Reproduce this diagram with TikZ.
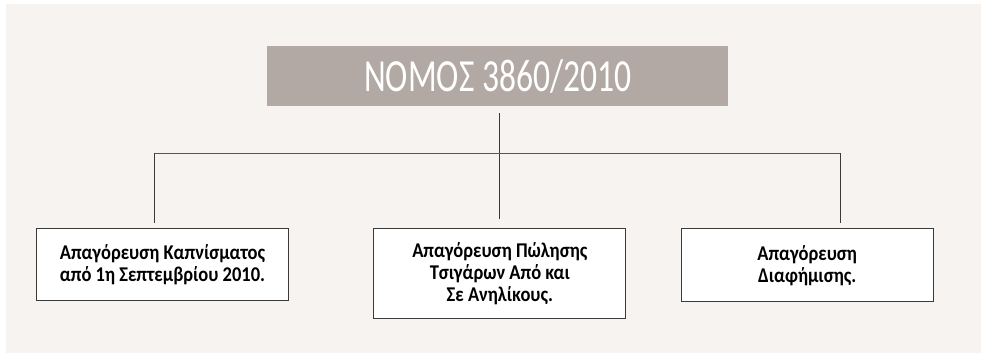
\documentclass[tikz,border=0pt]{standalone}
\usepackage{fontspec}
\setmainfont{Carlito}
\usetikzlibrary{positioning}

\definecolor{panelbg}{HTML}{F7F3F0}
\definecolor{lawgray}{HTML}{B3A9A4}
\definecolor{edgegray}{HTML}{3A3A3A}
\definecolor{railgray}{HTML}{5A5656}

\tikzset{
  lawbox/.style={fill=lawgray, anchor=north west, inner sep=0pt,
    minimum width=461pt, minimum height=60pt, text=white,
    font=\fontsize{46}{46}\selectfont},
  banbox/.style={draw=edgegray, line width=1.1pt, fill=white, anchor=north west,
    inner sep=0pt, minimum width=252pt, align=center,
    font=\bfseries\fontsize{21}{22}\selectfont},
  link/.style={draw=edgegray, line width=1pt}
}
\newcommand{\narrow}[1]{\scalebox{0.88}[1]{#1}}

\begin{document}
\begin{tikzpicture}[x=1pt,y=-1pt]
			\fill[white] (0,0) rectangle (981,353);
			\fill[panelbg] (6,4) rectangle (981,353);
			\useasboundingbox (0,0) rectangle (981,353);

			\node[lawbox] (law) at (267,46) {\scalebox{0.73}[1]{ΝΟΜΟΣ 3860/2010}};

			\node[banbox, minimum height=71.7pt] (smoke) at (36,228.3)
			  {\narrow{Απαγόρευση Καπνίσματος}\\\narrow{από 1η Σεπτεμβρίου 2010.}};
			\node[banbox, minimum height=90pt] (sale) at (373.3,228.3)
			  {\narrow{Απαγόρευση Πώλησης}\\\narrow{Τσιγάρων Από και}\\\narrow{Σε Ανηλίκους.}};
			\node[banbox, minimum height=73pt] (adv) at (680.7,228.3)
			  {\narrow{Απαγόρευση}\\\narrow{Διαφήμισης.}};

			\coordinate (jl) at (154,153.3);
			\coordinate (jr) at (840,153.3);

			\draw[link] ([yshift=-7pt]law.south -| sale.north) -- ([yshift=9pt]sale.north);
			\draw[link, draw=railgray] (jl) -- (jr);
			\draw[link] (jl) -- ([yshift=5pt]jl |- smoke.north);
			\draw[link] (jr) -- ([yshift=5pt]jr |- adv.north);
\end{tikzpicture}
\end{document}
